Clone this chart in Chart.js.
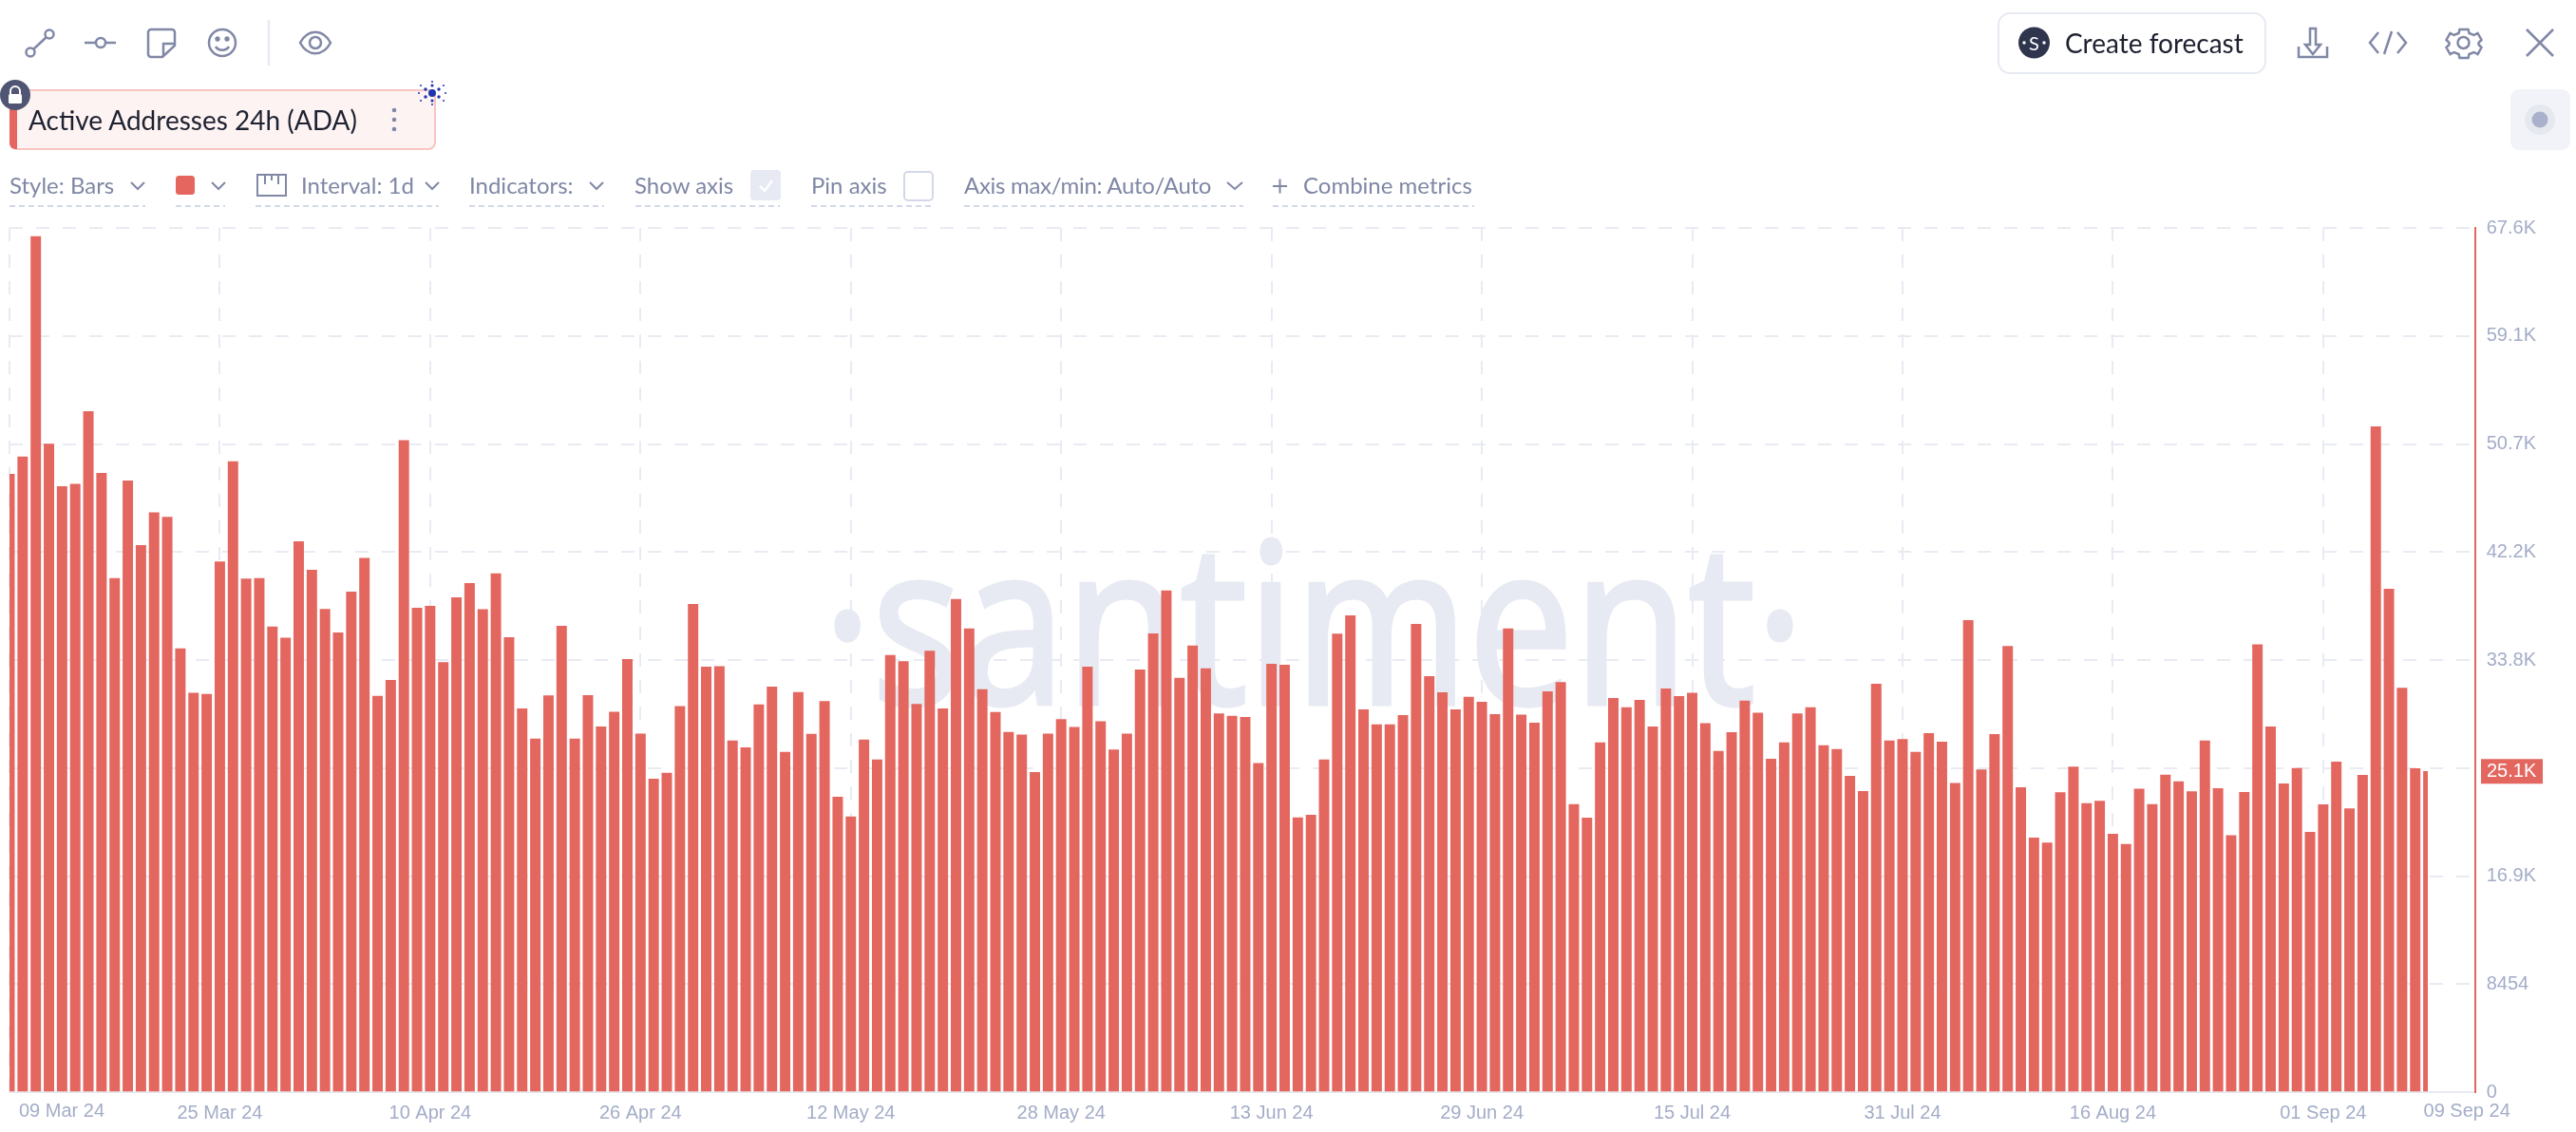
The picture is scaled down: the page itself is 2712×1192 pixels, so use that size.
<!DOCTYPE html>
<html>
<head>
<meta charset="utf-8">
<title>Active Addresses 24h (ADA)</title>
<script src="https://cdn.jsdelivr.net/npm/chart.js@4/dist/chart.umd.min.js"></script>
<style>
html, body { margin: 0; padding: 0; background: #fff; overflow: hidden; }
#page { position: relative; width: 2712px; height: 1192px; }
#chartCanvas { position: absolute; left: 0; top: 0; }
#shapes { position: absolute; left: 0; top: 0; }
.t { position: absolute; white-space: nowrap; font-family: Lato, sans-serif; font-size: 24px; line-height: 30px; color: #7f87a5; }
.dark { color: #1d2130; }
</style>
</head>
<body>
<div id="page">
  <canvas id="chartCanvas" width="2712" height="1192"></canvas>

  <svg id="shapes" width="2712" height="240" fill="none" stroke="#8188a6" stroke-width="2.5">
    <!-- left drawing tools -->
    <circle cx="32" cy="55" r="4.5"/><circle cx="52" cy="36" r="4.5"/><line x1="35" y1="52" x2="49" y2="39"/>
    <line x1="89" y1="45" x2="122" y2="45"/><circle cx="106" cy="45" r="5" fill="#fff"/>
    <path d="M159 31h22a3 3 0 0 1 3 3v14l-13 12h-12a3 3 0 0 1-3-3v-23a3 3 0 0 1 3-3z"/><path d="M184 46h-12v13"/>
    <circle cx="234" cy="45" r="14"/><circle cx="229" cy="41" r="1.4" fill="#8188a6"/><circle cx="239" cy="41" r="1.4" fill="#8188a6"/><path d="M227 49c3 5 11 5 14 0"/>
    <line x1="283" y1="21" x2="283" y2="69" stroke="#e7eaf3"/>
    <path d="M316 45c8-15 24-15 32 0c-8 15-24 15-32 0z"/><circle cx="332" cy="45" r="6"/>

    <!-- metric pill -->
    <rect x="11" y="95" width="447" height="62" rx="7" fill="#fdf3f2" stroke="#f7c5c2" stroke-width="2"/>
    <path d="M10 100h8v57h-2a6 6 0 0 1-6-6z" fill="#e5665f" stroke="none"/>
    <ellipse cx="16" cy="100" rx="16" ry="16" fill="#505573" stroke="none"/>
    <path d="M11 99v-3a5 5 0 0 1 10 0v3" stroke="#fff" stroke-width="2"/><rect x="9" y="99" width="14" height="10" rx="1.5" fill="#fff" stroke="none"/>
    <g fill="#8188a6" stroke="none"><circle cx="415" cy="116" r="2.3"/><circle cx="415" cy="126" r="2.3"/><circle cx="415" cy="136" r="2.3"/></g>
    <g fill="#2036b0" stroke="none">
      <circle cx="455" cy="98" r="4"/><circle cx="448" cy="94" r="1.7"/><circle cx="462" cy="94" r="1.7"/><circle cx="448" cy="102" r="1.7"/><circle cx="462" cy="102" r="1.7"/><circle cx="455" cy="90" r="1.6"/><circle cx="455" cy="106" r="1.6"/>
      <circle cx="443" cy="90" r="1"/><circle cx="467" cy="90" r="1"/><circle cx="443" cy="106" r="1"/><circle cx="467" cy="106" r="1"/><circle cx="455" cy="86" r="1"/><circle cx="455" cy="110" r="1"/><circle cx="441" cy="98" r="1"/><circle cx="469" cy="98" r="1"/>
    </g>

    <!-- settings row -->
    <g stroke-width="2">
      <path d="M138 192l7 7l7-7"/><path d="M223 192l7 7l7-7"/><path d="M448 192l7 7l7-7"/><path d="M621 192l7 7l7-7"/><path d="M1292 192l8 7l8-7"/>
    </g>
    <rect x="185" y="185" width="20" height="20" rx="3.5" fill="#e5665f" stroke="none"/>
    <rect x="271" y="184" width="30" height="22" stroke-width="2"/><path d="M279 184v10M286 184v6M293 184v10" stroke-width="2"/>
    <rect x="790" y="179" width="32" height="32" rx="4" fill="#e7eaf3" stroke="none"/>
    <path d="M800 196l5 5l8-11" stroke="#fff" stroke-width="2.5"/>
    <rect x="952" y="181" width="30" height="30" rx="4" stroke="#d3d8e8" stroke-width="2"/>
    <path d="M1340 196h15M1347.500 188.500v15" stroke-width="2"/>
    <g stroke="#d3d8ea" stroke-width="2" stroke-dasharray="6 4">
      <line x1="10" y1="217" x2="153" y2="217"/><line x1="185" y1="217" x2="237" y2="217"/><line x1="269" y1="217" x2="462" y2="217"/>
      <line x1="494" y1="217" x2="636" y2="217"/><line x1="669" y1="217" x2="821" y2="217"/><line x1="854" y1="217" x2="983" y2="217"/>
      <line x1="1015" y1="217" x2="1309" y2="217"/><line x1="1340" y1="217" x2="1552" y2="217"/>
    </g>

    <!-- right side buttons -->
    <rect x="2104" y="14" width="281" height="63" rx="12" stroke="#e7eaf3" stroke-width="2"/>
    <circle cx="2141.500" cy="45" r="16.500" fill="#2f354d" stroke="none"/>
    <circle cx="2131" cy="45" r="1.7" fill="#fff" stroke="none"/><circle cx="2152" cy="45" r="1.7" fill="#fff" stroke="none"/>
    <path d="M2427 47h5v-17h6v17h5l-8 10z"/><path d="M2420 49v11h30v-11"/>
    <path d="M2504 34l-9 11l9 11M2524 34l9 11l-9 11M2518 33l-8 24"/>
    <circle cx="2593.500" cy="45" r="6"/>
    <path d="M2589 31h9l1 4l5 2l4-2l4 7l-3 3v2l3 3l-4 7l-4-2l-5 2l-1 4h-9l-1-4l-5-2l-4 2l-4-7l3-3v-2l-3-3l4-7l4 2l5-2z" transform="translate(0.500 0)"/>
    <path d="M2660 31l28 28M2688 31l-28 28"/>
    <rect x="2643" y="94" width="63" height="64" rx="9" fill="#f1f3f8" stroke="none"/>
    <circle cx="2674" cy="126" r="16" fill="#e6e8ef" stroke="none"/>
    <circle cx="2674" cy="126" r="8.500" fill="#a9b1cc" stroke="none"/>
  </svg>

  <div class="t dark" style="left:30px;top:111px;font-size:28px">Active Addresses 24h (ADA)</div>
  <div class="t" style="left:10px;top:180px">Style: Bars</div>
  <div class="t" style="left:317px;top:180px">Interval: 1d</div>
  <div class="t" style="left:494px;top:180px">Indicators:</div>
  <div class="t" style="left:668px;top:180px">Show axis</div>
  <div class="t" style="left:854px;top:180px">Pin axis</div>
  <div class="t" style="left:1015px;top:180px;letter-spacing:-0.3px">Axis max/min: Auto/Auto</div>
  <div class="t" style="left:1372px;top:180px">Combine metrics</div>
  <div class="t dark" style="left:2174px;top:30px;font-size:28px">Create forecast</div>
  <div class="t" style="left:2136px;top:30px;color:#fff;font-size:20px">S</div>
</div>

<script>
// 09 Mar 24 -> 09 Sep 24, one bar per day
var activeAddresses = [
    48360, 49720, 66960, 50710, 47390, 47570, 53260, 48430, 40210, 47840,
    42790, 45340, 44990, 34710, 31220, 31140, 41500, 49350, 40160, 40210,
    36420, 35530, 43080, 40850, 37780, 35950, 39140, 41790, 30990, 32230,
    50990, 37880, 38030, 33620, 38700, 39810, 37760, 40580, 35580, 30000,
    27650, 31020, 36470, 27650, 31040, 28590, 29750, 33870, 28040, 24500,
    24970, 30180, 38180, 33270, 33300, 27500, 26950, 30320, 31710, 26610,
    31290, 28020, 30570, 23090, 21550, 27570, 26010, 34190, 33690, 30350,
    34510, 30000, 38570, 36270, 31510, 29730, 28170, 27950, 25020, 28040,
    29160, 28560, 33270, 28990, 26780, 28040, 33050, 35870, 39240, 32400,
    34930, 33150, 29610, 29430, 29330, 25720, 33490, 33420, 21480, 21680,
    26010, 35850, 37290, 29930, 28760, 28760, 29480, 36620, 32530, 31270,
    29930, 30920, 30520, 29560, 36270, 29510, 28890, 31340, 32060, 22520,
    21450, 27350, 30820, 30100, 30670, 28590, 31560, 30970, 31220, 28840,
    26680, 28140, 30620, 29660, 26060, 27350, 29610, 30100, 27130, 26830,
    24720, 23540, 31930, 27500, 27600, 26610, 28070, 27400, 24160, 36910,
    25220, 28000, 34880, 23830, 19890, 19500, 23440, 25440, 22590, 22770,
    20190, 19400, 23730, 22520, 24820, 24300, 23510, 27500, 23760, 20070,
    23460, 35010, 28590, 24130, 25340, 20340, 22500, 25840, 22170, 24800,
    52080, 39370, 31610, 25320, 25100
];

// day numbers counted from 09 Mar 24
var xTickDays = [0, 16, 32, 48, 64, 80, 96, 112, 128, 144, 160, 176, 184];
var xTickLabels = ["09 Mar 24", "25 Mar 24", "10 Apr 24", "26 Apr 24", "12 May 24", "28 May 24", "13 Jun 24",
    "29 Jun 24", "15 Jul 24", "31 Jul 24", "16 Aug 24", "01 Sep 24", "09 Sep 24"];
var xAxisEnd = 187.55;

var yTickValues = [0, 8454, 16908, 25362, 33816, 42270, 50724, 59178, 67632];
var yTickLabels = ["0", "8454", "16.9K", "", "33.8K", "42.2K", "50.7K", "59.1K", "67.6K"];
var lastValueLabel = "25.1K";

var barColor = "#e3665f";
var gridColor = "#e9ebf3";
var labelColor = "#a4adc8";
var labelFont = "Liberation Sans";

// watermark, edge date labels and the current value box
var extras = {
    id: "extras",
    beforeDatasetsDraw: function (chart) {
        var ctx = chart.ctx;
        ctx.save();
        ctx.fillStyle = "#e7eaf2";
        ctx.strokeStyle = "#e7eaf2";
        ctx.lineWidth = 5;
        ctx.font = "235px 'Open Sans'";
        ctx.textBaseline = "alphabetic";
        ctx.textAlign = "center";
        ctx.translate(1383, 741);
        ctx.scale(0.84, 1);
        ctx.fillText("·santiment·", 0, 0);
        ctx.strokeText("·santiment·", 0, 0);
        ctx.restore();
    },
    afterDraw: function (chart) {
        var ctx = chart.ctx;
        var x = chart.scales.x;
        var y = chart.scales.y;
        ctx.save();
        ctx.font = "20px '" + labelFont + "'";
        ctx.fillStyle = labelColor;
        ctx.textBaseline = "middle";
        ctx.textAlign = "left";
        ctx.fillText(xTickLabels[0], x.getPixelForValue(xTickDays[0]) + 10, 1170);
        ctx.fillText(xTickLabels[12], x.getPixelForValue(xTickDays[12]) - 5, 1170);

        var lastY = y.getPixelForValue(activeAddresses[activeAddresses.length - 1]);
        ctx.fillStyle = barColor;
        ctx.fillRect(2612, lastY - 13, 65, 26);
        ctx.fillStyle = "#fff";
        ctx.fillText(lastValueLabel, 2618, lastY);
        ctx.restore();
    }
};

var ctx = document.getElementById("chartCanvas");
var barChart = new Chart(ctx, {
    type: "bar",
    data: {
        datasets: [{
            label: "Active Addresses 24h (ADA)",
            data: activeAddresses.map(function (v, i) { return { x: i, y: v }; }),
            backgroundColor: barColor,
            borderWidth: 0,
            barThickness: 10.3,
            // last bar stops at its own middle, like the first one
            clip: { left: 0, top: false, right: -49.7, bottom: 0 }
        }]
    },
    options: {
        responsive: false,
        animation: false,
        devicePixelRatio: 1,
        layout: { padding: { left: 10, top: 240, right: 0, bottom: 0 } },
        plugins: { legend: { display: false }, tooltip: { enabled: false } },
        scales: {
            x: {
                type: "linear",
                min: 0,
                max: xAxisEnd,
                offset: false,
                afterBuildTicks: function (scale) {
                    scale.ticks = xTickDays.map(function (d) { return { value: d }; });
                },
                afterFit: function (scale) { scale.height = 42; },
                grid: {
                    offset: false,
                    drawTicks: false,
                    lineWidth: 2,
                    color: function (c) { return c.index === 12 ? "transparent" : gridColor; }
                },
                border: { color: gridColor, width: 2, dash: [14, 14] },
                ticks: {
                    autoSkip: false,
                    maxRotation: 0,
                    padding: 10,
                    color: labelColor,
                    font: { family: labelFont, size: 20 },
                    callback: function (value, index) {
                        // first and last labels are drawn in the plugin, they sit off centre
                        return (index === 0 || index === 12) ? "" : xTickLabels[index];
                    }
                }
            },
            y: {
                position: "right",
                min: 0,
                max: 67632,
                afterBuildTicks: function (scale) {
                    scale.ticks = yTickValues.map(function (v) { return { value: v }; });
                },
                afterFit: function (scale) { scale.width = 106.3; },
                grid: { drawTicks: false, lineWidth: 2, color: gridColor },
                border: { color: barColor, width: 2, dash: [14, 14] },
                ticks: {
                    padding: 12,
                    color: labelColor,
                    font: { family: labelFont, size: 20 },
                    callback: function (value, index) { return yTickLabels[index]; }
                }
            }
        }
    },
    plugins: [extras]
});
</script>
</body>
</html>
